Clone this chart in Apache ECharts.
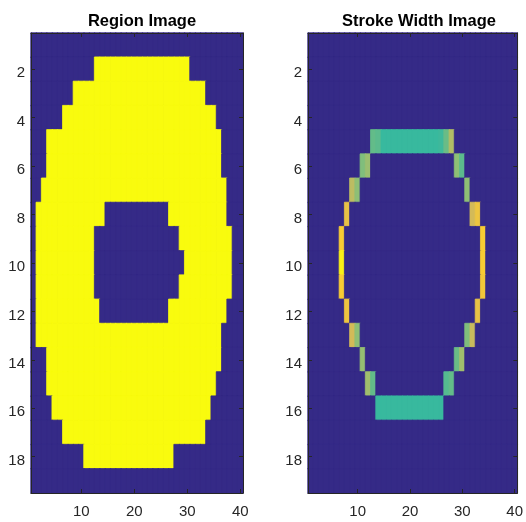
<!DOCTYPE html>
<html>
<head>
<meta charset="utf-8">
<script src="https://cdn.jsdelivr.net/npm/echarts@6/dist/echarts.min.js"></script>
<style>
html,body{margin:0;padding:0;background:#fff;}
#chart{width:526px;height:522px;}
</style>
</head>
<body>
<div id="chart"></div>
<script>
// ---- data ----
const titles = ['Region Image', 'Stroke Width Image'];
const xTickLabels = ['10', '20', '30', '40'];
const yTickLabels = ['2', '4', '6', '8', '10', '12', '14', '16', '18'];
const nCols = 40;
const nRows = 19;
const xCats = Array.from({length: nCols}, (_, i) => String(i + 1));
const yCats = Array.from({length: nRows}, (_, i) => String(i + 1));

// Region image: one string per row (row 1 at top), '1' = region pixel
const regionRows = [
  '0000000000000000000000000000000000000000',
  '0000000000001111111111111111110000000000',
  '0000000011111111111111111111111110000000',
  '0000001111111111111111111111111111100000',
  '0001111111111111111111111111111111110000',
  '0001111111111111111111111111111111110000',
  '0011111111111111111111111111111111111000',
  '0111111111111100000000000011111111111000',
  '0111111111110000000000000000111111111100',
  '0111111111110000000000000000011111111100',
  '0111111111110000000000000000111111111100',
  '0111111111111000000000000011111111111000',
  '0111111111111111111111111111111111110000',
  '0001111111111111111111111111111111110000',
  '0001111111111111111111111111111111100000',
  '0000111111111111111111111111111111000000',
  '0000001111111111111111111111111110000000',
  '0000000000111111111111111110000000000000',
  '0000000000000000000000000000000000000000'
];

// Stroke width image: [column, row, value] for non-background pixels
const strokeCells = [
  [13,5,0.56],[14,5,0.55],[15,5,0.50],[16,5,0.50],[17,5,0.50],[18,5,0.50],[19,5,0.50],[20,5,0.50],
  [21,5,0.50],[22,5,0.50],[23,5,0.50],[24,5,0.50],[25,5,0.50],[26,5,0.51],[27,5,0.57],[28,5,0.68],
  [11,6,0.60],[12,6,0.64],[29,6,0.62],[30,6,0.55],
  [9,7,0.70],[10,7,0.62],[31,7,0.62],
  [8,8,0.80],[32,8,0.74],[33,8,0.82],
  [7,9,0.86],[34,9,0.86],
  [7,10,0.97],[34,10,0.86],
  [7,11,0.86],[34,11,0.84],
  [8,12,0.82],[33,12,0.80],
  [9,13,0.74],[10,13,0.62],[31,13,0.60],[32,13,0.72],
  [11,14,0.63],[29,14,0.57],[30,14,0.65],
  [12,15,0.65],[13,15,0.56],[27,15,0.54],[28,15,0.56],
  [14,16,0.50],[15,16,0.50],[16,16,0.50],[17,16,0.50],[18,16,0.50],[19,16,0.50],[20,16,0.50],
  [21,16,0.50],[22,16,0.50],[23,16,0.50],[24,16,0.50],[25,16,0.50],[26,16,0.50]
];

// ---- styling ----
const parula = ['#352A87', '#0363E1', '#1485D4', '#06A7C6', '#38B99E', '#92BF73', '#D9BA56', '#FCCE2E', '#F9FB0E'];
const FONT = '"Liberation Sans", Arial, Helvetica, sans-serif';
const AXC = '#262626';

// colour of a value (used only for the seam-hiding cell border)
function hex2rgb(h) { return [1, 3, 5].map(i => parseInt(h.substr(i, 2), 16)); }
function colorAt(v) {
  const t = Math.max(0, Math.min(1, v)) * (parula.length - 1);
  const i = Math.min(parula.length - 2, Math.floor(t));
  const f = t - i;
  const a = hex2rgb(parula[i]), b = hex2rgb(parula[i + 1]);
  return 'rgb(' + a.map((x, k) => Math.round(x + (b[k] - x) * f)).join(',') + ')';
}
function cell(c, r, v) {
  return {value: [c, r, v], itemStyle: {borderColor: colorAt(v), borderWidth: 0.8}};
}

// ---- build heatmap data ----
const regionData = [];
regionRows.forEach((s, r) => {
  for (let c = 0; c < nCols; c++) regionData.push(cell(c, r, s[c] === '1' ? 1 : 0));
});
const strokeGrid = yCats.map(() => xCats.map(() => 0));
strokeCells.forEach(([c, r, v]) => { strokeGrid[r - 1][c - 1] = v; });
const strokeData = [];
strokeGrid.forEach((row, r) => row.forEach((v, c) => strokeData.push(cell(c, r, v))));

const grids = [
  {left: 31, top: 33, width: 212, height: 460, show: true, backgroundColor: parula[0], borderWidth: 0},
  {left: 308, top: 33, width: 213, height: 460, show: true, backgroundColor: parula[0], borderWidth: 0}
];

const xShow = (i, v) => xTickLabels.includes(v);
const yShow = (i, v) => yTickLabels.includes(v);

function xAxisFor(gi, pos) {
  return {
    type: 'category', gridIndex: gi, data: xCats, position: pos, z: 5,
    axisLine: {show: true, lineStyle: {color: AXC, width: 1}},
    axisTick: {show: true, inside: true, alignWithLabel: true, interval: xShow, length: 4, lineStyle: {color: AXC}},
    axisLabel: {show: pos === 'bottom', interval: xShow, color: AXC, fontFamily: FONT, fontSize: 15, margin: 11},
    splitLine: {show: false}
  };
}
function yAxisFor(gi, pos) {
  return {
    type: 'category', gridIndex: gi, data: yCats, inverse: true, position: pos, z: 5,
    axisLine: {show: true, lineStyle: {color: AXC, width: 1}},
    axisTick: {show: true, inside: true, alignWithLabel: true, interval: yShow, length: 4, lineStyle: {color: AXC}},
    axisLabel: {
      show: pos === 'left', interval: yShow, color: AXC, fontFamily: FONT, fontSize: 15, margin: 6,
      formatter: v => '{t|' + v + '}',
      rich: {t: {color: AXC, fontFamily: FONT, fontSize: 15, padding: [8, 0, 0, 0]}}
    },
    splitLine: {show: false}
  };
}

const chart = echarts.init(document.getElementById('chart'), null, {renderer: 'canvas'});
chart.setOption({
  animation: false,
  backgroundColor: '#fff',
  title: [
    {text: titles[0], left: 137, top: 8, textAlign: 'center',
     textStyle: {fontFamily: FONT, fontWeight: 'bold', fontSize: 16.5, color: '#000'}},
    {text: titles[1], left: 414, top: 8, textAlign: 'center',
     textStyle: {fontFamily: FONT, fontWeight: 'bold', fontSize: 16.5, color: '#000'}}
  ],
  grid: grids,
  xAxis: [xAxisFor(0, 'bottom'), xAxisFor(0, 'top'), xAxisFor(1, 'bottom'), xAxisFor(1, 'top')],
  yAxis: [yAxisFor(0, 'left'), yAxisFor(0, 'right'), yAxisFor(1, 'left'), yAxisFor(1, 'right')],
  visualMap: [
    {show: false, seriesIndex: 0, min: 0, max: 1, inRange: {color: parula}},
    {show: false, seriesIndex: 1, min: 0, max: 1, inRange: {color: parula}}
  ],
  series: [
    {type: 'heatmap', xAxisIndex: 0, yAxisIndex: 0, data: regionData, progressive: 0,
     emphasis: {disabled: true}},
    {type: 'heatmap', xAxisIndex: 2, yAxisIndex: 2, data: strokeData, progressive: 0,
     emphasis: {disabled: true}}
  ]
});
</script>
</body>
</html>
